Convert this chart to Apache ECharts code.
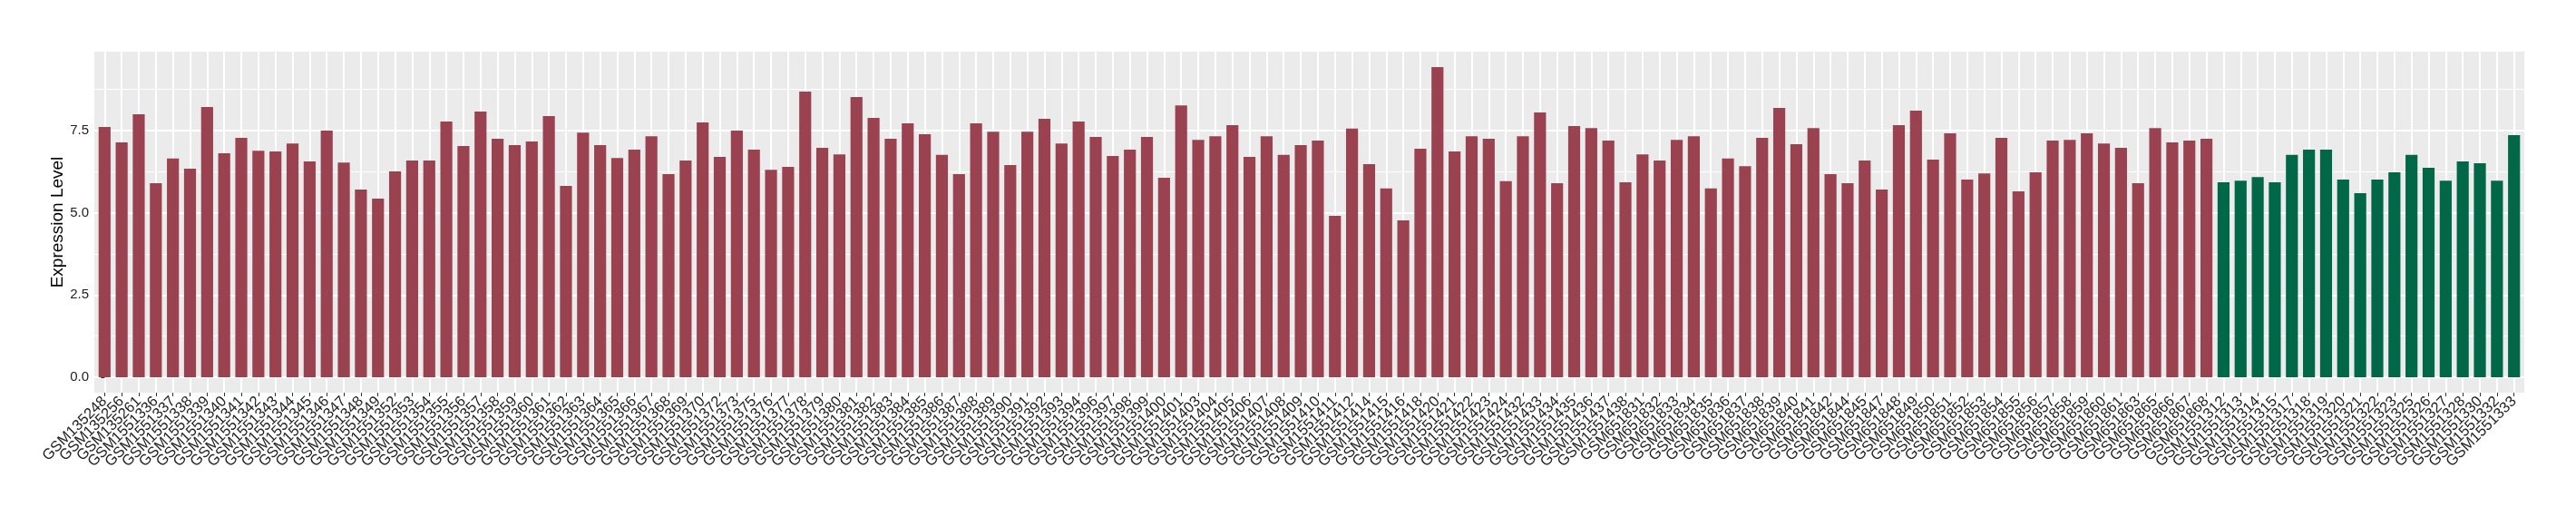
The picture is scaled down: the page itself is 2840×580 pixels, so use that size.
<!DOCTYPE html>
<html>
<head>
<meta charset="utf-8">
<script src="https://cdn.jsdelivr.net/npm/echarts@6/dist/echarts.min.js"></script>
<style>html,body{margin:0;padding:0;background:#fff}#c{width:2840px;height:580px}</style>
</head>
<body>
<div id="c"></div>
<script>
// Samples of group 1 (red) and group 2 (green)
const groupASamples = ["GSM135248","GSM135256","GSM135261","GSM1551336","GSM1551337","GSM1551338","GSM1551339","GSM1551340",
"GSM1551341","GSM1551342","GSM1551343","GSM1551344","GSM1551345","GSM1551346","GSM1551347","GSM1551348","GSM1551349","GSM1551352","GSM1551353","GSM1551354",
"GSM1551355","GSM1551356","GSM1551357","GSM1551358","GSM1551359","GSM1551360","GSM1551361","GSM1551362","GSM1551363","GSM1551364","GSM1551365","GSM1551366",
"GSM1551367","GSM1551368","GSM1551369","GSM1551370","GSM1551372","GSM1551373","GSM1551375","GSM1551376","GSM1551377","GSM1551378","GSM1551379","GSM1551380","GSM1551381",
"GSM1551382","GSM1551383","GSM1551384","GSM1551385","GSM1551386","GSM1551387","GSM1551388","GSM1551389","GSM1551390","GSM1551391","GSM1551392","GSM1551393",
"GSM1551394","GSM1551396","GSM1551397","GSM1551398","GSM1551399","GSM1551400","GSM1551401","GSM1551403","GSM1551404","GSM1551405","GSM1551406","GSM1551407",
"GSM1551408","GSM1551409","GSM1551410","GSM1551411","GSM1551412","GSM1551414","GSM1551415","GSM1551416","GSM1551418","GSM1551420","GSM1551421","GSM1551422",
"GSM1551423","GSM1551424","GSM1551432","GSM1551433","GSM1551434","GSM1551435","GSM1551436","GSM1551437","GSM1551438","GSM651831","GSM651832","GSM651833",
"GSM651834","GSM651835","GSM651836","GSM651837","GSM651838","GSM651839","GSM651840","GSM651841","GSM651842","GSM651844","GSM651845","GSM651847","GSM651848",
"GSM651849","GSM651850","GSM651851","GSM651852","GSM651853","GSM651854","GSM651855","GSM651856","GSM651857","GSM651858","GSM651859","GSM651860",
"GSM651861","GSM651863","GSM651865","GSM651866","GSM651867","GSM651868"];
const groupAValues = [7.61,7.14,8.00,5.90,6.65,6.34,8.22,6.81,
7.28,6.89,6.87,7.11,6.56,7.50,6.53,5.71,5.43,6.26,6.59,6.59,
7.78,7.03,8.08,7.25,7.06,7.17,7.94,5.82,7.44,7.06,6.67,6.92,
7.33,6.18,6.59,7.75,6.70,7.50,6.92,6.31,6.40,8.69,6.98,6.78,8.52,
7.89,7.25,7.72,7.39,6.76,6.18,7.72,7.47,6.45,7.47,7.86,7.11,
7.78,7.31,6.73,6.92,7.31,6.07,8.27,7.22,7.33,7.67,6.70,7.33,
6.76,7.06,7.20,4.91,7.56,6.48,5.74,4.77,6.95,9.43,6.87,7.33,
7.25,5.96,7.33,8.05,5.90,7.64,7.58,7.20,5.93,6.78,6.59,7.22,
7.33,5.74,6.65,6.42,7.28,8.19,7.09,7.58,6.18,5.90,6.59,5.71,7.67,
8.11,6.62,7.42,6.01,6.20,7.28,5.65,6.23,7.20,7.22,7.42,7.11,
6.98,5.90,7.58,7.14,7.20,7.25];
const groupBSamples = ["GSM1551312","GSM1551313","GSM1551314","GSM1551315","GSM1551317","GSM1551318","GSM1551319","GSM1551320","GSM1551321",
"GSM1551322","GSM1551323","GSM1551325","GSM1551326","GSM1551327","GSM1551328","GSM1551330","GSM1551332","GSM1551333"];
const groupBValues = [5.93,5.98,6.09,5.93,6.76,6.92,6.92,6.01,5.60,6.01,6.23,6.76,6.37,5.98,6.56,6.51,5.98,7.36];
const yTicks = [0, 2.5, 5, 7.5];
const yMinorTicks = [1.25, 3.75, 6.25, 8.75];
const yTitle = "Expression Level";

const categories = groupASamples.concat(groupBSamples);
const colorA = '#9B4251', colorB = '#016847';
const barData = [];
groupAValues.forEach((v, i) => barData.push({ value: [i, v], itemStyle: { color: colorA } }));
groupBValues.forEach((v, i) => barData.push({ value: [groupAValues.length + i, v], itemStyle: { color: colorB } }));
const idx = categories.map((_, i) => i);
const n = categories.length;
const yMax = Math.max(...groupAValues, ...groupBValues);

// panel geometry (ggplot-like expansion: 0.6 category units each side on x, 5% on y)
const P = { left: 104, right: 57, top: 57, bottom: 147, width: 2840 - 104 - 57 };
const step = P.width / (n - 1 + 1.2);
const inset = 0.1 * step;

const chart = echarts.init(document.getElementById('c'), null, { renderer: 'canvas' });
const font = 'Liberation Sans, Arial, sans-serif';
chart.setOption({
  animation: false,
  backgroundColor: '#fff',
  grid: [
    { left: P.left, right: P.right, top: P.top, bottom: P.bottom, show: true, backgroundColor: '#EBEBEB', borderWidth: 0 },
    { left: P.left + inset, right: P.right + inset, top: P.top, bottom: P.bottom, show: false }
  ],
  xAxis: [{
    gridIndex: 0, type: 'value', min: -0.6, max: n - 1 + 0.6,
    axisLine: { show: false },
    axisTick: { show: false, customValues: idx },
    axisLabel: { show: false },
    splitLine: { show: true, lineStyle: { color: '#fff', width: 2 } }
  }, {
    gridIndex: 1, type: 'category', data: categories, boundaryGap: true,
    axisLine: { show: false },
    axisTick: { show: true, alignWithLabel: true, interval: 0, length: 4, lineStyle: { color: '#333', width: 1 } },
    axisLabel: { interval: 0, rotate: 45, margin: 7, fontSize: 16.5, color: '#222', fontFamily: font },
    splitLine: { show: false }
  }],
  yAxis: [{
    gridIndex: 0, type: 'value', min: -0.05 * yMax, max: yMax * 1.05,
    name: yTitle, nameLocation: 'middle', nameGap: 31, nameMoveOverlap: false,
    nameTextStyle: { fontSize: 19, color: '#000', fontFamily: font },
    axisLine: { show: false },
    axisTick: { show: true, customValues: yTicks, length: 4, lineStyle: { color: '#333', width: 1 } },
    axisLabel: { customValues: yTicks, margin: 6, fontSize: 15, color: '#222', fontFamily: font,
      showMinLabel: true, showMaxLabel: true,
      formatter: v => v.toFixed(1) },
    splitLine: { show: true, lineStyle: { color: '#fff', width: 2 } }
  }, {
    gridIndex: 0, type: 'value', min: -0.05 * yMax, max: yMax * 1.05, position: 'left',
    axisLine: { show: false }, axisLabel: { show: false },
    axisTick: { show: false, customValues: yMinorTicks },
    splitLine: { show: true, lineStyle: { color: '#fff', width: 1 } }
  }, {
    gridIndex: 1, type: 'value', min: 0, max: 1, show: false
  }],
  series: [{
    type: 'bar', data: barData, barWidth: 13.2, xAxisIndex: 0, yAxisIndex: 0
  }]
});
</script>
</body>
</html>
